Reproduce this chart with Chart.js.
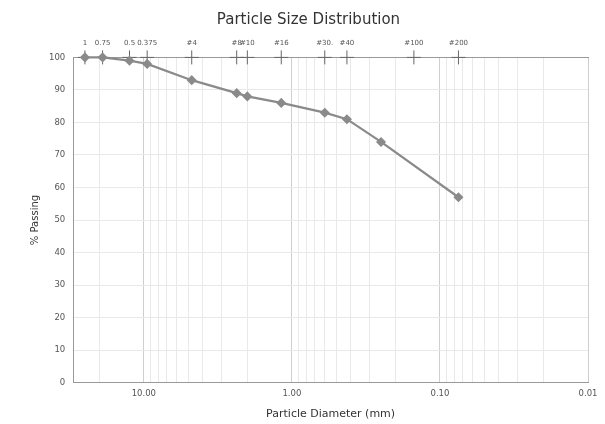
<!DOCTYPE html>
<html>
<head>
<meta charset="utf-8">
<script src="https://cdn.jsdelivr.net/npm/chart.js@4.4.0/dist/chart.umd.min.js"></script>
<style>
  html, body { margin: 0; padding: 0; background: #fff; }
  #wrap { width: 605px; height: 424px; }
</style>
</head>
<body>
<div id="wrap"><canvas id="psd-chart"></canvas></div>
<script>
// sieve data (mm) and % passing
const sieveSizes = [25.0, 19.0, 12.5, 9.5, 4.75, 2.36, 2.0, 1.18, 0.6, 0.425, 0.25, 0.075];
const percentPassing = [100, 100, 99, 98, 93, 89, 88, 86, 83, 81, 74, 57];

// top axis sieve marks
const topSieveSizes = [25.0, 19.0, 12.5, 9.5, 4.75, 2.36, 2.0, 1.18, 0.6, 0.425, 0.15, 0.075];
const topSieveLabels = ["1", "0.75", "0.5", "0.375", "#4", "#8", "#10", "#16", "#30.", "#40", "#100", "#200"];

// bottom axis labels
const majorTicks = [10, 1, 0.1, 0.01];
const majorLabels = ["10.00", "1.00", "0.10", "0.01"];

const FONT = "'DejaVu Sans', Verdana, sans-serif";

// log grid lines 1..9 x 10^n between 0.01 and 30
let gridValues = [];
for (let e = -2; e <= 1; e++) {
  for (let m = 1; m <= 9; m++) {
    let v = parseFloat((m * Math.pow(10, e)).toPrecision(6));
    if (v >= 0.01 && v <= 30) gridValues.push(v);
  }
}

function isMajor(v) {
  return majorTicks.findIndex((m) => Math.abs(m - v) / m < 1e-6);
}

var ctx = document.getElementById("psd-chart").getContext("2d");
var psdChart = new Chart(ctx, {
  type: "scatter",
  data: {
    datasets: [
      {
        label: "Passing",
        data: sieveSizes.map((s, i) => ({ x: s, y: percentPassing[i] })),
        showLine: true,
        borderColor: "#8a8a8a",
        backgroundColor: "#8a8a8a",
        borderWidth: 2.2,
        pointStyle: "rectRot",
        pointRadius: 3.5,
        clip: false,
        order: 1,
      },
      {
        label: "Sieves",
        data: topSieveSizes.map((s) => ({ x: s, y: 100 })),
        showLine: false,
        pointStyle: "cross",
        pointRadius: 7,
        borderColor: "#666",
        borderWidth: 1,
        clip: false,
        order: 2,
      },
    ],
  },
  options: {
    responsive: true,
    maintainAspectRatio: false,
    animation: false,
    layout: { padding: { left: 29, right: 17, top: 0, bottom: 3 } },
    plugins: {
      legend: { display: false },
      tooltip: { enabled: false },
      title: {
        display: true,
        text: "Particle Size Distribution",
        color: "#333",
        font: { family: FONT, size: 15, weight: "normal" },
        padding: { top: 11, bottom: 0 },
      },
    },
    scales: {
      x: {
        type: "logarithmic",
        position: "bottom",
        reverse: true,
        min: 0.01,
        max: 30,
        afterBuildTicks: (scale) => {
          scale.ticks = gridValues.map((v) => ({ value: v }));
        },
        ticks: {
          autoSkip: false,
          maxRotation: 0,
          color: "#555",
          font: { family: FONT, size: 8.5 },
          padding: 6,
          callback: (value) => {
            let i = isMajor(value);
            return i >= 0 ? majorLabels[i] : "";
          },
        },
        grid: {
          color: (c) => (c.tick && isMajor(c.tick.value) >= 0 ? "#cfcfcf" : "#e9e9e9"),
          drawTicks: false,
        },
        border: { color: "#999" },
        title: {
          display: true,
          text: "Particle Diameter (mm)",
          color: "#333",
          font: { family: FONT, size: 11 },
          padding: { top: 3, bottom: 0 },
        },
      },
      x2: {
        type: "logarithmic",
        position: "top",
        reverse: true,
        min: 0.01,
        max: 30,
        afterBuildTicks: (scale) => {
          scale.ticks = topSieveSizes.map((v) => ({ value: v }));
        },
        ticks: {
          autoSkip: false,
          maxRotation: 0,
          color: "#555",
          font: { family: FONT, size: 7 },
          padding: 10,
          callback: (value, index) => topSieveLabels[index],
        },
        grid: { drawOnChartArea: false, drawTicks: false },
        border: { color: "#999" },
      },
      y: {
        min: 0,
        max: 100,
        ticks: {
          stepSize: 10,
          color: "#555",
          font: { family: FONT, size: 8.5 },
          padding: 8,
        },
        grid: { color: "#e9e9e9", drawTicks: false },
        border: { color: "#999" },
        title: {
          display: true,
          text: "% Passing",
          color: "#333",
          font: { family: FONT, size: 10 },
          padding: { top: 0, bottom: 0 },
        },
      },
    },
  },
});
</script>
</body>
</html>
